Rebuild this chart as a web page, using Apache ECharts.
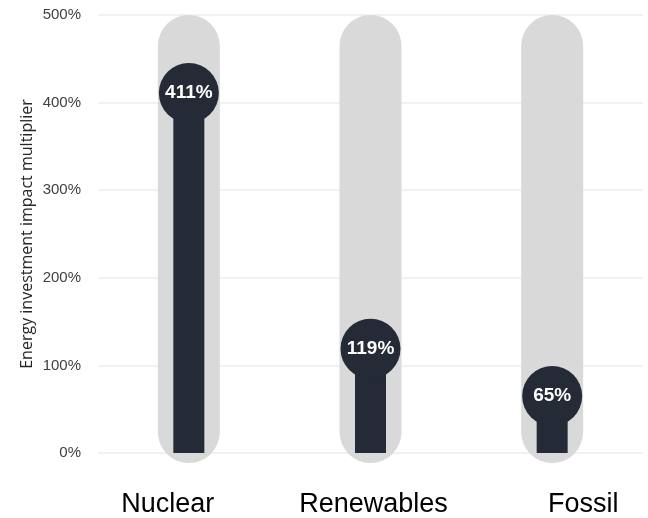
<!DOCTYPE html>
<html lang="en">
<head>
    <meta charset="UTF-8">
    <title>Energy investment impact multiplier</title>
    <script src="https://cdn.jsdelivr.net/npm/echarts@6/dist/echarts.min.js"></script>
    <style>
        html, body { margin: 0; padding: 0; background: #fff; }
        #main { width: 648px; height: 518px; }
    </style>
</head>
<body>
<div id="main"></div>
<script type="text/javascript">
    // data
    var categories = ['Nuclear', 'Renewables', 'Fossil'];
    var multipliers = [411, 119, 65];
    var trackMax = [500, 500, 500];

    var myChart = echarts.init(document.getElementById('main'));

    // labels in the original sit a little off the bar centres
    var labelPad = {
        Nuclear: [0, 42, 0, 0],
        Renewables: [0, 0, 0, 6],
        Fossil: [0, 0, 0, 62]
    };
    var rich = {};
    categories.forEach(function (c, i) {
        rich['c' + i] = { fontSize: 27, color: '#000', padding: labelPad[c] };
    });

    var option = {
        backgroundColor: '#ffffff',
        animation: false,
        textStyle: { fontFamily: 'Liberation Sans, Arial, sans-serif' },
        grid: { left: 98, right: 5, top: 15, bottom: 65 },
        xAxis: {
            type: 'category',
            data: categories,
            axisLine: { show: false },
            axisTick: { show: false },
            axisLabel: {
                margin: 38,
                formatter: function (v) {
                    return '{c' + categories.indexOf(v) + '|' + v + '}';
                },
                rich: rich
            }
        },
        yAxis: {
            type: 'value',
            min: 0,
            max: 500,
            interval: 100,
            name: 'Energy investment impact multiplier',
            nameLocation: 'middle',
            nameGap: 63,
            nameMoveOverlap: false,
            nameTextStyle: { fontFamily: 'Open Sans', fontSize: 16, color: '#262626' },
            axisLabel: { formatter: '{value}%', fontSize: 15, color: '#404040', margin: 17 },
            splitLine: { lineStyle: { color: '#ececec', width: 1.5 } }
        },
        series: [
            {
                // gray rounded track behind each bar
                type: 'custom',
                z: 1,
                data: trackMax.map(function (v, i) { return [i, v]; }),
                renderItem: function (params, api) {
                    var top = api.coord([api.value(0), api.value(1)]);
                    var base = api.coord([api.value(0), 0]);
                    var w = 62;
                    return {
                        type: 'rect',
                        shape: { x: top[0] - w / 2, y: top[1], width: w, height: base[1] - top[1] + 10, r: w / 2 },
                        style: { fill: '#d9d9d9' }
                    };
                }
            },
            {
                type: 'bar',
                z: 2,
                data: multipliers,
                barWidth: 31,
                itemStyle: { color: '#252b36' }
            },
            {
                type: 'scatter',
                z: 3,
                data: multipliers,
                symbol: 'circle',
                symbolSize: 60,
                itemStyle: { color: '#252b36', opacity: 1 },
                label: {
                    show: true,
                    position: 'inside',
                    formatter: '{c}%',
                    color: '#fff',
                    fontWeight: 'bold',
                    fontSize: 19
                }
            }
        ]
    };

    myChart.setOption(option);
</script>
</body>
</html>
